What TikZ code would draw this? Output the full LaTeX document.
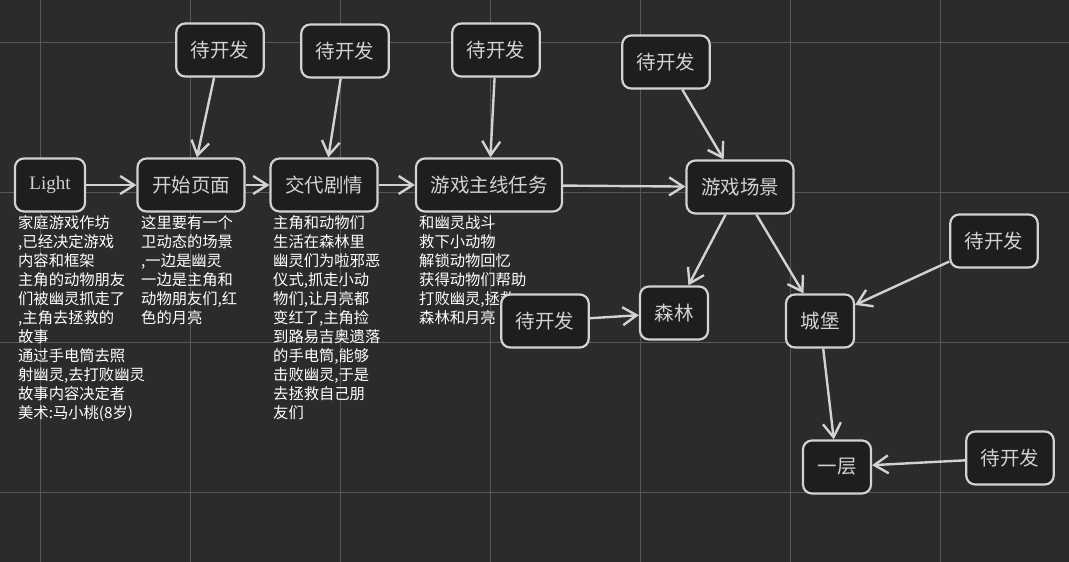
\documentclass[tikz,border=0pt]{standalone}
\usepackage{fontspec}
\setmainfont{Liberation Serif}
\newfontfamily\cjk{Noto Sans CJK SC}
\usetikzlibrary{arrows.meta}
\definecolor{bgcol}{HTML}{2B2B2B}
\definecolor{gridcol}{HTML}{575757}
\definecolor{boxfill}{HTML}{1E1E1E}
\definecolor{boxline}{HTML}{D2D2D2}

\begin{document}
\begin{tikzpicture}[x=1pt,y=-1pt,
  box/.style={draw=boxline, fill=boxfill, line width=2.2pt, rounded corners=9pt, minimum height=53pt, inner xsep=14.5pt, text=boxline, font=\fontsize{19.5}{21}\selectfont\cjk},
  note/.style={anchor=north west, inner sep=0pt, align=left, text=white, font=\fontsize{15.3}{19}\selectfont\cjk},
  link/.style={draw=boxline, line width=2.4pt, -{Straight Barb[length=14pt,width=18pt]}}]
  \useasboundingbox (0,0) rectangle (1069,562);
  \fill[bgcol] (0,0) rectangle (1069,562);
  \foreach \x in {40,190,...,940} {\draw[gridcol, line width=1pt] (\x,0) -- (\x,562);}
  \foreach \y in {42,192,342,492} {\draw[gridcol, line width=1pt] (0,\y) -- (1069,\y);}

  \node[note] (lightnote) at (18,215) {家庭游戏作坊\\,已经决定游戏\\内容和框架\\主角的动物朋友\\们被幽灵抓走了\\,主角去拯救的\\故事\\通过手电筒去照\\射幽灵,去打败幽灵\\故事内容决定者\\美术:马小桃(8岁)};
  \node[note] (startnote) at (141,215) {这里要有一个\\卫动态的场景\\,一边是幽灵\\一边是主角和\\动物朋友们,红\\色的月亮};
  \node[note] (storynote) at (273,215) {主角和动物们\\生活在森林里\\幽灵们为啦邪恶\\仪式,抓走小动\\物们,让月亮都\\变红了,主角捡\\到路易吉奥遗落\\的手电筒,能够\\击败幽灵,于是\\去拯救自己朋\\友们};
  \node[note] (questnote) at (419,215) {和幽灵战斗\\救下小动物\\解锁动物回忆\\获得动物们帮助\\打败幽灵,拯救\\森林和月亮};

  \node[box, font=\fontsize{19}{21}\selectfont] (light) at (50,185) {Light};
  \node[box] (start) at (191,185) {开始页面};
  \node[box] (story) at (324,185) {交代剧情};
  \node[box] (quest) at (489,185) {游戏主线任务};
  \node[box] (scene) at (740,187) {游戏场景};
  \node[box] (forest) at (674,313) {森林};
  \node[box] (castle) at (820,321) {城堡};
  \node[box] (floor) at (837,467) {一层};
  \node[box] (todostart) at (220,50) {待开发};
  \node[box] (todostory) at (345,51) {待开发};
  \node[box] (todoquest) at (496,50) {待开发};
  \node[box] (todoscene) at (666,62) {待开发};
  \node[box] (todoforest) at (545,321) {待开发};
  \node[box] (todocastle) at (994,241) {待开发};
  \node[box] (todofloor) at (1010,458) {待开发};

  \foreach \a/\b in {light/start, start/story, story/quest, quest/scene,
    todostart/start, todostory/story, todoquest/quest, todoscene/scene,
    scene/forest, scene/castle, todoforest/forest, todocastle/castle,
    castle/floor, todofloor/floor}
    {\draw[link] (\a) -- (\b);}
\end{tikzpicture}
\end{document}
